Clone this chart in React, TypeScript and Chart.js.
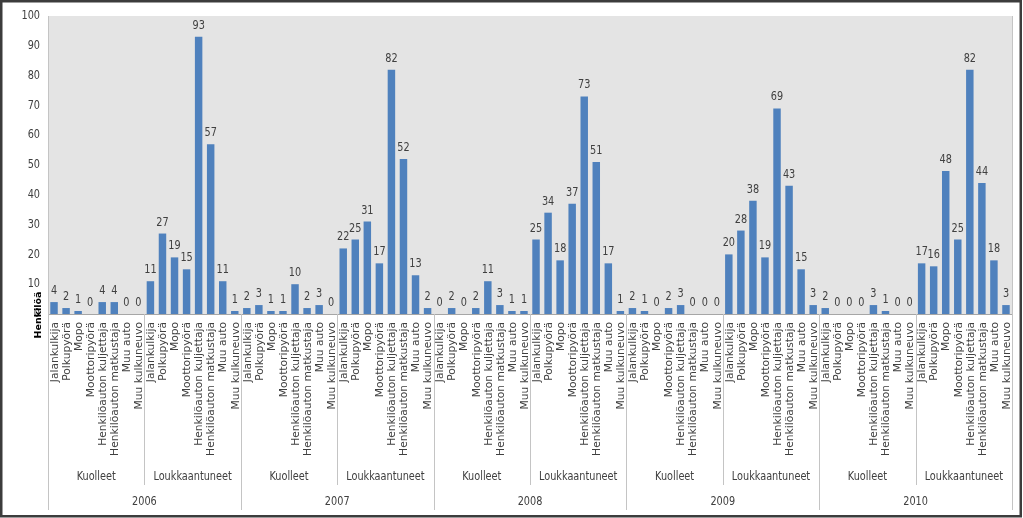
import { useEffect, useRef } from "react";
import { Chart, registerables } from "chart.js";

Chart.register(...registerables);

const years = ["2006", "2007", "2008", "2009", "2010"];
const groups = ["Kuolleet", "Loukkaantuneet"];
const vehicles = [
  "Jalankulkija",
  "Polkupyörä",
  "Mopo",
  "Moottoripyörä",
  "Henkilöauton kuljettaja",
  "Henkilöauton matkustaja",
  "Muu auto",
  "Muu kulkuneuvo",
];

const kuolleet2006 = [4, 2, 1, 0, 4, 4, 0, 0];
const loukkaantuneet2006 = [11, 27, 19, 15, 93, 57, 11, 1];
const kuolleet2007 = [2, 3, 1, 1, 10, 2, 3, 0];
const loukkaantuneet2007 = [22, 25, 31, 17, 82, 52, 13, 2];
const kuolleet2008 = [0, 2, 0, 2, 11, 3, 1, 1];
const loukkaantuneet2008 = [25, 34, 18, 37, 73, 51, 17, 1];
const kuolleet2009 = [2, 1, 0, 2, 3, 0, 0, 0];
const loukkaantuneet2009 = [20, 28, 38, 19, 69, 43, 15, 3];
const kuolleet2010 = [2, 0, 0, 0, 3, 1, 0, 0];
const loukkaantuneet2010 = [17, 16, 48, 25, 82, 44, 18, 3];

const yTitle = "Henkilöä";
const yMin = 0;
const yMax = 100;
const yStep = 10;

const seriesByYear = [
  [kuolleet2006, loukkaantuneet2006],
  [kuolleet2007, loukkaantuneet2007],
  [kuolleet2008, loukkaantuneet2008],
  [kuolleet2009, loukkaantuneet2009],
  [kuolleet2010, loukkaantuneet2010],
];

const NARROW = "'Liberation Sans Narrow', 'DejaVu Sans Condensed', 'Liberation Sans', sans-serif";
const WIDE = "'DejaVu Sans', Verdana, sans-serif";
const TEXT = "#404040";
const NARROW_SCALE = 0.9;

export default function App() {
  const ref = useRef<HTMLCanvasElement | null>(null);

  useEffect(() => {
    const canvas = ref.current;
    if (!canvas) return;

    const labels: string[] = [];
    const values: number[] = [];
    seriesByYear.forEach((pair) => {
      pair.forEach((arr) => {
        arr.forEach((v, i) => {
          labels.push(vehicles[i]);
          values.push(v);
        });
      });
    });
    const perGroup = vehicles.length;
    const perYear = perGroup * groups.length;

    const narrowText = (ctx: any, text: string, x: number, y: number, align: string, baseline: string) => {
      ctx.save();
      ctx.translate(x, y);
      ctx.scale(NARROW_SCALE, 1);
      ctx.textAlign = align;
      ctx.textBaseline = baseline;
      ctx.fillText(text, 0, 0);
      ctx.restore();
    };

    const decor = {
      id: "decor",
      beforeDraw(chart: any) {
        const { ctx, chartArea } = chart;
        ctx.save();
        ctx.fillStyle = "#ffffff";
        ctx.fillRect(0, 0, chart.width, chart.height);
        ctx.fillStyle = "#e4e4e4";
        ctx.fillRect(chartArea.left, chartArea.top, chartArea.right - chartArea.left, chartArea.bottom - chartArea.top);
        ctx.restore();
      },
      afterDatasetsDraw(chart: any) {
        const { ctx } = chart;
        const meta = chart.getDatasetMeta(0);
        ctx.save();
        ctx.font = `12px ${NARROW}`;
        ctx.fillStyle = TEXT;
        meta.data.forEach((el: any, i: number) => {
          narrowText(ctx, String(values[i]), el.x, el.y - 8, "center", "alphabetic");
        });
        ctx.restore();
      },
      afterDraw(chart: any) {
        const { ctx, chartArea } = chart;
        const xs = chart.scales.x;
        const ys = chart.scales.y;
        const px = (v: number) => xs.getPixelForValue(v);
        const bottom = chartArea.bottom;
        ctx.save();
        ctx.strokeStyle = "#a6a6a6";
        ctx.lineWidth = 1;
        ctx.beginPath();
        ctx.moveTo(chartArea.left, Math.round(bottom) + 0.5);
        ctx.lineTo(chartArea.right, Math.round(bottom) + 0.5);
        ctx.stroke();
        ctx.strokeStyle = "#c4c4c4";
        const total = values.length;
        for (let b = 0; b <= total; b += perGroup) {
          const x = Math.round(px(b - 0.5)) + 0.5;
          const isYear = b % perYear === 0;
          ctx.beginPath();
          ctx.moveTo(x, isYear && (b === 0 || b === total) ? chartArea.top : bottom);
          ctx.lineTo(x, isYear ? 510 : 485);
          ctx.stroke();
        }
        // y tick labels
        ctx.fillStyle = TEXT;
        ctx.font = `12px ${NARROW}`;
        ys.ticks.forEach((t: any) => {
          narrowText(ctx, String(t.value), chartArea.left - 8, ys.getPixelForValue(t.value), "right", "middle");
        });
        // vehicle labels (category tick labels)
        ctx.font = `10.7px ${WIDE}`;
        ctx.textAlign = "right";
        ctx.textBaseline = "middle";
        labels.forEach((lab, i) => {
          ctx.save();
          ctx.translate(px(i) + 1, bottom + 8);
          ctx.rotate(-Math.PI / 2);
          ctx.fillText(lab, 0, 0);
          ctx.restore();
        });
        ctx.font = `12px ${NARROW}`;
        years.forEach((yr, yi) => {
          groups.forEach((g, gi) => {
            const start = yi * perYear + gi * perGroup;
            const cx = (px(start) + px(start + perGroup - 1)) / 2;
            narrowText(ctx, g, cx, 477, "center", "middle");
          });
          const s = yi * perYear;
          const cx = (px(s) + px(s + perYear - 1)) / 2;
          narrowText(ctx, yr, cx, 502, "center", "middle");
        });
        ctx.save();
        ctx.translate(39, 315);
        ctx.rotate(-Math.PI / 2);
        ctx.textAlign = "center";
        ctx.textBaseline = "middle";
        ctx.font = `bold 9.5px ${WIDE}`;
        ctx.fillStyle = "#000000";
        ctx.fillText(yTitle, 0, 0);
        ctx.restore();
        ctx.strokeStyle = "#3c3c3c";
        ctx.lineWidth = 2.5;
        ctx.strokeRect(1.25, 1.25, chart.width - 3.5, chart.height - 3);
        ctx.restore();
      },
    };

    const chart = new Chart(canvas, {
      type: "bar",
      data: {
        labels,
        datasets: [
          {
            data: values,
            backgroundColor: "#4F81BD",
            borderWidth: 0,
            barPercentage: 0.62,
            categoryPercentage: 1,
          },
        ],
      },
      options: {
        animation: false,
        responsive: false,
        devicePixelRatio: 1,
        layout: { padding: { top: 16, right: 11, left: 48, bottom: 0 } },
        plugins: {
          legend: { display: false },
          tooltip: { enabled: false },
          title: { display: false },
        },
        scales: {
          x: {
            type: "category",
            grid: { display: false, drawTicks: false },
            border: { display: false },
            ticks: { display: false, autoSkip: false },
            afterFit: (s: any) => {
              s.height = 204;
            },
          },
          y: {
            min: yMin,
            max: yMax,
            grid: { display: false, drawTicks: false },
            border: { display: false },
            ticks: { display: false, stepSize: yStep },
            afterFit: (s: any) => {
              s.width = 0;
            },
          },
        },
      },
      plugins: [decor],
    });

    return () => chart.destroy();
  }, []);

  return (
    <div style={{ position: "absolute", left: 0, top: 0, width: 1023, height: 518 }}>
      <canvas ref={ref} width={1023} height={518} style={{ width: 1023, height: 518, display: "block" }} />
    </div>
  );
}
